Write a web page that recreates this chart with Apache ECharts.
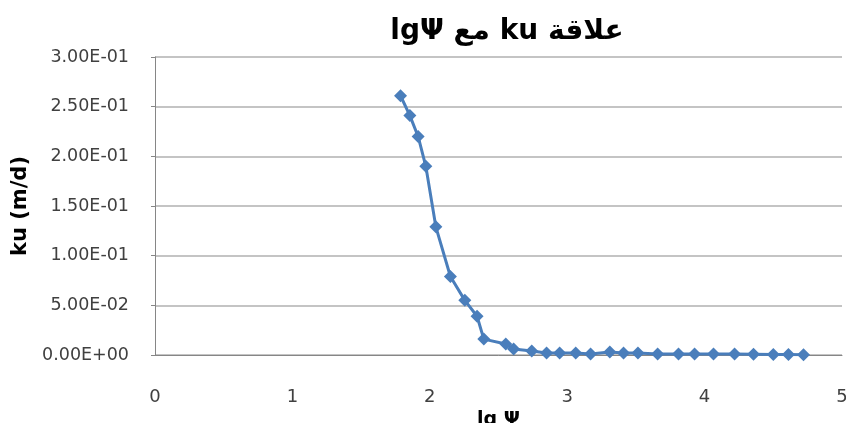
<!DOCTYPE html>
<html>
<head>
<meta charset="utf-8">
<script src="https://cdn.jsdelivr.net/npm/echarts@6/dist/echarts.min.js"></script>
<style>
html,body{margin:0;padding:0;background:#fff;}
#chart{width:846px;height:423px;}
</style>
</head>
<body>
<div id="chart"></div>
<script>
// Data
const lgPsi = [1.787, 1.855, 1.915, 1.971, 2.044, 2.15, 2.255, 2.344, 2.393, 2.553, 2.61, 2.742, 2.85, 2.945, 3.062, 3.17, 3.31, 3.41, 3.515, 3.658, 3.81, 3.927, 4.065, 4.218, 4.356, 4.5, 4.61, 4.72];
const ku = [0.261, 0.241, 0.220, 0.190, 0.129, 0.079, 0.055, 0.039, 0.016, 0.011, 0.006, 0.004, 0.002, 0.002, 0.002, 0.001, 0.003, 0.002, 0.002, 0.001, 0.001, 0.001, 0.001, 0.001, 0.0008, 0.0005, 0.0005, 0.0003];
const xTicks = [0, 1, 2, 3, 4, 5];
const yTicks = [0, 0.05, 0.10, 0.15, 0.20, 0.25, 0.30];
const titleText = 'lgΨ مع ku علاقة';
const xName = 'lg Ψ';
const yName = 'ku (m/d)';

function sci(v) {
  if (Math.abs(v) < 1e-12) return '0.00E+00';
  const s = v.toExponential(2);
  const parts = s.split('e');
  const n = parseInt(parts[1], 10);
  return parts[0] + 'E' + (n < 0 ? '-' : '+') + String(Math.abs(n)).padStart(2, '0');
}

const chart = echarts.init(document.getElementById('chart'));
const labelFont = '"DejaVu Sans", "Liberation Sans", sans-serif';
chart.setOption({
  animation: false,
  backgroundColor: '#ffffff',
  title: {
    text: titleText,
    left: 502,
    textAlign: 'center',
    top: 13,
    textStyle: { fontFamily: '"DejaVu Sans", "Liberation Sans", sans-serif', fontWeight: 'bold', fontSize: 28, color: '#000' }
  },
  grid: { left: 155, right: 4, top: 57, bottom: 68, containLabel: false, outerBoundsMode: 'none' },
  xAxis: {
    type: 'value',
    min: xTicks[0],
    max: xTicks[xTicks.length - 1],
    interval: 1,
    name: xName,
    nameLocation: 'middle',
    nameGap: 49,
    nameTextStyle: { fontFamily: labelFont, fontWeight: 'bold', fontSize: 19, color: '#000' },
    axisLine: { show: true, onZero: false, lineStyle: { color: '#868686', width: 1 } },
    axisTick: { show: false },
    axisLabel: { fontFamily: labelFont, fontSize: 18, color: '#404040', margin: 33 },
    splitLine: { show: false }
  },
  yAxis: {
    type: 'value',
    min: yTicks[0],
    max: yTicks[yTicks.length - 1],
    interval: 0.05,
    name: yName,
    nameLocation: 'middle',
    nameRotate: 90,
    nameGap: 118,
    nameTextStyle: { fontFamily: labelFont, fontWeight: 'bold', fontSize: 21, color: '#000' },
    axisLine: { show: true, lineStyle: { color: '#868686', width: 1 } },
    axisTick: { show: true, length: 4, lineStyle: { color: '#868686' } },
    axisLabel: { fontFamily: labelFont, fontSize: 17.5, color: '#404040', margin: 26, formatter: sci },
    splitLine: { show: true, lineStyle: { color: '#c4c4c4', width: 2 } }
  },
  series: [{
    type: 'line',
    data: lgPsi.map((x, i) => [x, ku[i]]),
    symbol: 'diamond',
    symbolSize: 13,
    lineStyle: { color: '#4a7ebb', width: 3 },
    itemStyle: { color: '#4a7ebb' }
  }]
});
</script>
</body>
</html>
